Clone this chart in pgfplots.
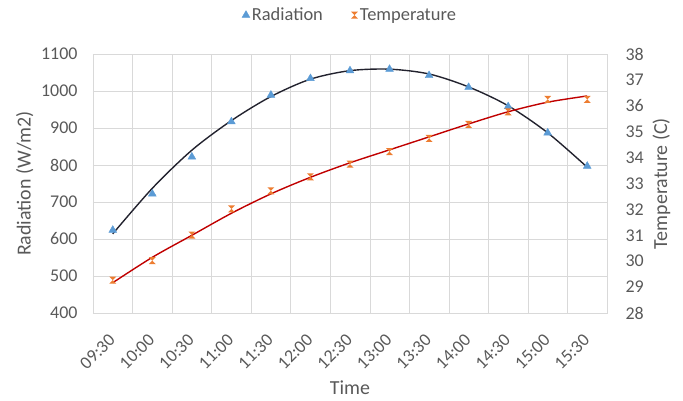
\documentclass[border=0pt]{standalone}
\usepackage{fontspec}
\setmainfont{Carlito}
\usepackage{pgfplots}
\usepackage{pgfplotstable}
\pgfplotsset{compat=1.18}

\definecolor{radblue}{HTML}{5B9BD5}
\definecolor{temporange}{HTML}{ED7D31}
\definecolor{fitdark}{HTML}{22222E}
\definecolor{fitred}{HTML}{C00000}
\definecolor{gridgray}{HTML}{D9D9D9}
\definecolor{txtgray}{HTML}{595959}

% hourglass marker like the orange Excel marks
\pgfdeclareplotmark{hourglass}{%
  \pgfpathmoveto{\pgfqpoint{-\pgfplotmarksize}{\pgfplotmarksize}}%
  \pgfpathlineto{\pgfqpoint{\pgfplotmarksize}{\pgfplotmarksize}}%
  \pgfpathlineto{\pgfqpoint{-\pgfplotmarksize}{-\pgfplotmarksize}}%
  \pgfpathlineto{\pgfqpoint{\pgfplotmarksize}{-\pgfplotmarksize}}%
  \pgfpathclose
  \pgfusepathqfill}

% measured points, x = 0..12 for 09:30..15:30
\pgfplotstableread{
x  rad   temp
0  624   29.27
1  722   30.02
2  822   31.01
3  917   32.02
4  989   32.72
5  1034  33.26
6  1055  33.75
7  1059  34.23
8  1042  34.74
9  1010  35.28
10 958   35.77
11 887   36.25
12 797   36.25
}\measured

% trendlines
\pgfplotstableread{
x  rad   temp
0  614   29.17
1  737   30.15
2  840   31.00
3  920   31.85
4  985   32.60
5  1032  33.24
6  1055  33.80
7  1059  34.30
8  1046  34.80
9  1011  35.30
10 960   35.77
11 887   36.14
12 794   36.38
}\trend

\pgfplotsset{
  base/.style={
    scale only axis,
    width=514bp, height=259bp,
    xmin=-0.5, xmax=12.5,
    tick style={draw=none},
    axis line style={draw=gridgray},
    /pgf/number format/assume math mode=true,
    /pgf/number format/1000 sep={},
    tick label style={font=\fontsize{18}{20}\selectfont, text=txtgray},
    label style={font=\fontsize{20}{22}\selectfont, text=txtgray},
  },
  dotimage/.style={legend image code/.code={%
    \draw[mark repeat=2, mark phase=2, ##1] plot coordinates {(0cm,0cm) (0.15cm,0cm) (0.3cm,0cm)};}},
}

\begin{document}
\begin{tikzpicture}
\path[use as bounding box] (-93bp,-88bp) rectangle (590bp,313bp);
\begin{axis}[
  base,
  at={(0,0)}, anchor=south west,
  ymin=400, ymax=1100,
  ytick={400,500,...,1100},
  ymajorgrids,
  grid style={gridgray},
  xtick={0,...,12},
  xticklabels={09:30,10:00,10:30,11:00,11:30,12:00,12:30,13:00,13:30,14:00,14:30,15:00,15:30},
  minor xtick={-0.5,0.5,...,12.5},
  xminorgrids,
  minor grid style={gridgray},
  xticklabel style={anchor=north east, xshift=-5bp, yshift=-15bp, rotate=45},
  yticklabel style={xshift=-12bp},
  xlabel={Time},
  ylabel={Radiation (W/m2)},
  xlabel style={yshift=-2bp},
  ylabel style={yshift=1bp},
  legend columns=2,
  legend style={at={(0.5,1.15)}, anchor=center, draw=none, fill=none,
    font=\fontsize{18.5}{20}\selectfont, text=txtgray,
    /tikz/every even column/.append style={column sep=26bp}},
  legend cell align=left,
]
\addplot[fitdark, line width=1.4pt, smooth, forget plot] table[x=x, y=rad] {\trend};
\addplot[only marks, mark=triangle*, mark size=4.5bp, color=radblue, dotimage] table[x=x, y=rad] {\measured};
\addlegendentry{Radiation}
\addlegendimage{only marks, mark=hourglass, mark size=3.5bp, color=temporange, dotimage}
\addlegendentry{Temperature}
\end{axis}
\begin{axis}[
  base,
  at={(0,0)}, anchor=south west,
  axis x line=none,
  axis y line*=right,
  ymin=28, ymax=38,
  ytick={28,29,...,38},
  yticklabel style={xshift=15bp},
  ylabel={Temperature (C)},
  ylabel style={yshift=-2bp},
]
\addplot[fitred, line width=1.4pt, smooth] table[x=x, y=temp] {\trend};
\addplot[only marks, mark=hourglass, mark size=3.5bp, color=temporange] table[x=x, y=temp] {\measured};
\end{axis}
\end{tikzpicture}
\end{document}
